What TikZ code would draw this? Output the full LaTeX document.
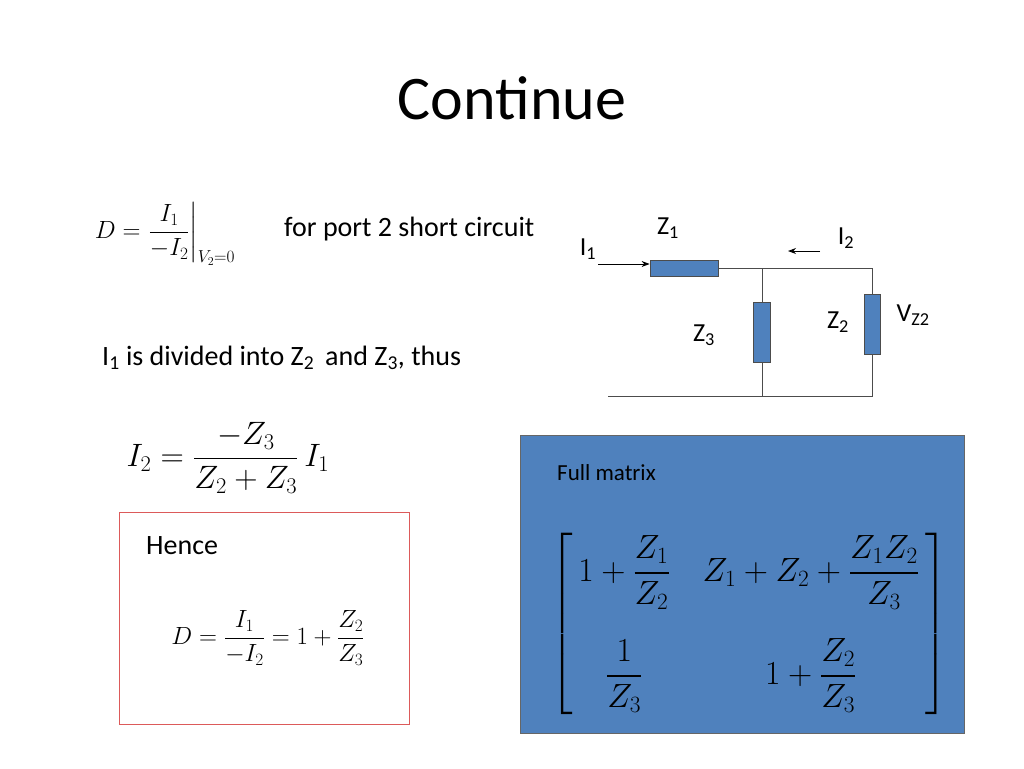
\documentclass[tikz,border=0pt]{standalone}
\usepackage{amsmath}
\usepackage{graphicx}
\usepackage{fontspec}
\setmainfont{Carlito}
\usetikzlibrary{arrows.meta}
\begin{document}
\begin{tikzpicture}[x=1pt,y=-1pt,
  res/.style={draw=black!70,fill={rgb,255:red,79;green,129;blue,189},line width=0.8pt},
  wire/.style={draw=black!70,line width=0.8pt},
  txt/.style={inner sep=0pt,font=\fontsize{28}{33}\selectfont}]
\useasboundingbox (0,0) rectangle (1024,768);
\node[inner sep=0pt,font=\fontsize{62}{70}\selectfont] (title) at (512,98) {Continue};
\node[inner sep=0pt,font=\fontsize{23}{27}\selectfont] (deq) at (165,234) {$D=\left.\dfrac{I_1}{-I_2}\right|_{V_2=0}$};
\node[txt,anchor=west] (port) at (284,229) {for port 2 short circuit};
\node[txt,anchor=west] (div) at (102,358) {I\textsubscript{1} is divided into Z\textsubscript{2}\, and Z\textsubscript{3}, thus};
\node[inner sep=0pt,font=\fontsize{24}{28}\selectfont] (i2eq) at (228,458) {\scalebox{1.3}{$I_2=\dfrac{-Z_3}{Z_2+Z_3}\,I_1$}};
% red box
\node[draw={rgb,255:red,220;green,90;blue,90},minimum width=290,minimum height=212,inner sep=0] (hbox) at (264,618) {};
\node[txt,anchor=west] (hence) at (146,546) {Hence};
\node[inner sep=0pt,font=\fontsize{24}{28}\selectfont] (deq2) at (268,638) {$D=\dfrac{I_1}{-I_2}=1+\dfrac{Z_2}{Z_3}$};
% blue box
\node[draw=black!60,fill={rgb,255:red,79;green,129;blue,189},minimum width=444,minimum height=298,inner sep=0] (bbox) at (742,584) {};
\node[inner sep=0pt,anchor=west,font=\fontsize{23}{27}\selectfont] (full) at (557,473) {Full matrix};
\node[inner sep=0pt,font=\fontsize{24}{28}\selectfont] (mat) at (749,624) {\scalebox{1.35}{$\left[\begin{array}{@{\,}c@{\quad}c@{\,}}
1+\dfrac{Z_1}{Z_2} & Z_1+Z_2+\dfrac{Z_1Z_2}{Z_3}\\[34pt]
\dfrac{1}{Z_3} & 1+\dfrac{Z_2}{Z_3}\end{array}\right]$}};
% circuit
\node[res,minimum width=68,minimum height=16,inner sep=0] (z1) at (684,268) {};
\node[res,minimum width=17,minimum height=60,inner sep=0] (z3) at (762,332) {};
\node[res,minimum width=16,minimum height=60,inner sep=0] (z2) at (872,324) {};
\coordinate (j1) at (762,268);
\coordinate (j2) at (872,268);
\coordinate (b0) at (608,396);
\coordinate (b1) at (762,396);
\coordinate (b2) at (872,396);
\draw[wire] (z1.east) -- (j2) -- (z2.north);
\draw[wire] (j1) -- (z3.north);
\draw[wire] (z3.south) -- (b1);
\draw[wire] (z2.south) -- (b2) -- (b0);
\coordinate (a1) at (598,264);
\draw[-{Stealth[length=8pt]},line width=0.9pt] (a1) -- (z1.west |- a1);
\coordinate (a2s) at (820,251);
\coordinate (a2e) at (788,251);
\draw[-{Stealth[length=8pt]},line width=0.9pt] (a2s) -- (a2e);
\node[txt,font=\fontsize{26}{30}\selectfont] (lz1) at (668,228) {Z\textsubscript{1}};
\node[txt,font=\fontsize{26}{30}\selectfont] (li1) at (588,249) {I\textsubscript{1}};
\node[txt,font=\fontsize{26}{30}\selectfont] (li2) at (846,238) {I\textsubscript{2}};
\node[txt,font=\fontsize{26}{30}\selectfont] (lz3) at (704,335) {Z\textsubscript{3}};
\node[txt,font=\fontsize{26}{30}\selectfont] (lz2) at (838,322) {Z\textsubscript{2}};
\node[txt,font=\fontsize{26}{30}\selectfont] (lvz) at (913,315) {V\textsubscript{Z2}};
\end{tikzpicture}
\end{document}
